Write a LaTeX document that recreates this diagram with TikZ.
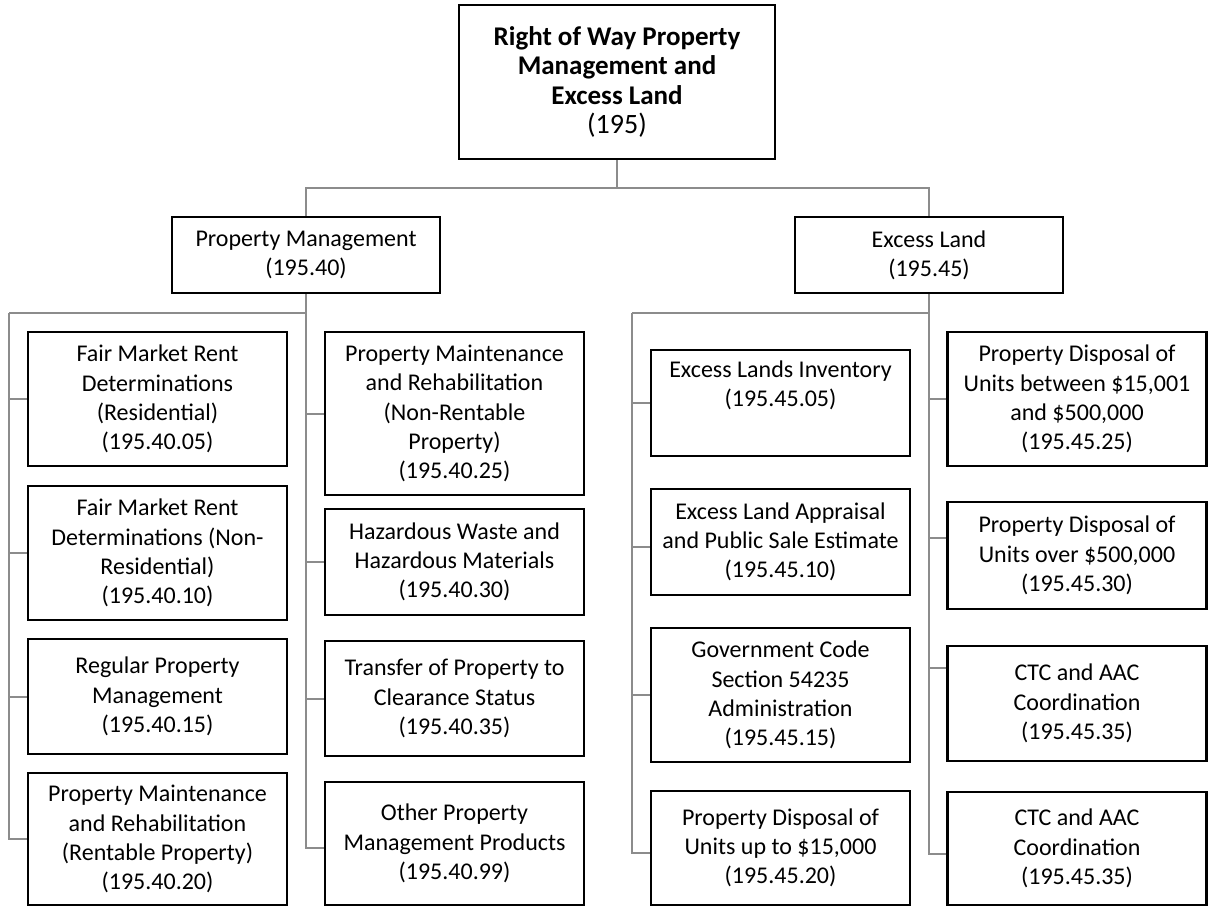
\documentclass[tikz,border=0pt]{standalone}
\usepackage{fontspec}
\setmainfont{Carlito}
\definecolor{linkgray}{RGB}{140,140,140}
\newcommand\headline[1]{{\fontsize{13.5}{14.6}\selectfont\bfseries #1}}

\begin{document}
\begin{tikzpicture}[x=0.5pt, y=-0.5pt,
  box/.style={draw=black, line width=1.2pt, align=center, inner sep=2pt,
    font=\fontsize{12}{14.6}\selectfont},
  unit/.style={box, minimum width=129.5pt},
  link/.style={draw=linkgray, line width=1pt}]
\useasboundingbox (0,0) rectangle (1208,907);

% top level
\node[box, minimum width=158pt, minimum height=77pt] (root) at (617,82)
  {\headline{Right of Way Property}\\ \headline{Management and}\\ \headline{Excess Land}\\ {\fontsize{14}{14.6}\selectfont (195)}};
\node[box, minimum width=134pt, minimum height=38pt] (pm) at (306,255) {Property Management\\ (195.40)};
\node[box, minimum width=134pt, minimum height=38pt] (el) at (929,255) {Excess Land\\ (195.45)};

% property management, two columns
\node[unit, minimum height=67pt] (a1) at (157.5,399) {Fair Market Rent\\ Determinations\\ (Residential)\\ (195.40.05)};
\node[unit, minimum height=67pt] (a2) at (157.5,553) {Fair Market Rent\\ Determinations (Non-\\ Residential)\\ (195.40.10)};
\node[unit, minimum height=57.5pt] (a3) at (157.5,696.5) {Regular Property\\ Management\\ (195.40.15)};
\node[unit, minimum height=66pt] (a4) at (157.5,839) {Property Maintenance\\ and Rehabilitation\\ (Rentable Property)\\ (195.40.20)};

\node[unit, minimum height=81.5pt] (b1) at (454.5,413.5) {Property Maintenance\\ and Rehabilitation\\ (Non-Rentable\\ Property)\\ (195.40.25)};
\node[unit, minimum height=53pt] (b2) at (454.5,562) {Hazardous Waste and\\ Hazardous Materials\\ (195.40.30)};
\node[unit, minimum height=57.5pt] (b3) at (454.5,698.5) {Transfer of Property to\\ Clearance Status\\ (195.40.35)};
\node[unit, minimum height=61.5pt] (b4) at (454.5,843.5) {Other Property\\ Management Products\\ (195.40.99)};

% excess land, two columns
\node[unit, minimum height=53pt] (c1) at (780.5,403) {Excess Lands Inventory\\ (195.45.05)\\ \strut};
\node[unit, minimum height=53pt] (c2) at (780.5,542) {Excess Land Appraisal\\ and Public Sale Estimate\\ (195.45.10)};
\node[unit, minimum height=67pt] (c3) at (780.5,695) {Government Code\\ Section 54235\\ Administration\\ (195.45.15)};
\node[unit, minimum height=57pt] (c4) at (780.5,848) {Property Disposal of\\ Units up to \$15,000\\ (195.45.20)};

\node[unit, minimum height=67pt] (d1) at (1077,399) {Property Disposal of\\ Units between \$15,001\\ and \$500,000\\ (195.45.25)};
\node[unit, minimum height=53.5pt] (d2) at (1077,555.5) {Property Disposal of\\ Units over \$500,000\\ (195.45.30)};
\node[unit, minimum height=57.5pt] (d3) at (1077,703.5) {CTC and AAC\\ Coordination\\ (195.45.35)};
\node[unit, minimum height=56.5pt] (d4) at (1077,848.5) {CTC and AAC\\ Coordination\\ (195.45.35)};

% buses
\coordinate (top) at (617,188);
\coordinate (busA) at (9,313);
\coordinate (busC) at (632,313);

\draw[link] (root.south) -- (top);
\draw[link] (pm.north) |- (top) -| (el.north);
\draw[link] (pm.south) |- (busA);
\draw[link] (el.south) |- (busC);

\foreach \n/\dy in {a1/0,a2/0,a3/0,a4/0}
  \draw[link] ([yshift=\dy pt]\n.west) -| (busA);
\foreach \n/\dy in {b1/0,b2/0,b3/0,b4/-2.25}
  \draw[link] ([yshift=\dy pt]\n.west) -| (pm.south);
\foreach \n/\dy in {c1/0,c2/-2.5,c3/0,c4/-2.5}
  \draw[link] ([yshift=\dy pt]\n.west) -| (busC);
\foreach \n/\dy in {d1/0,d2/8.75,d3/17.75,d4/-2.75}
  \draw[link] ([yshift=\dy pt]\n.west) -| (el.south);
\end{tikzpicture}
\end{document}
